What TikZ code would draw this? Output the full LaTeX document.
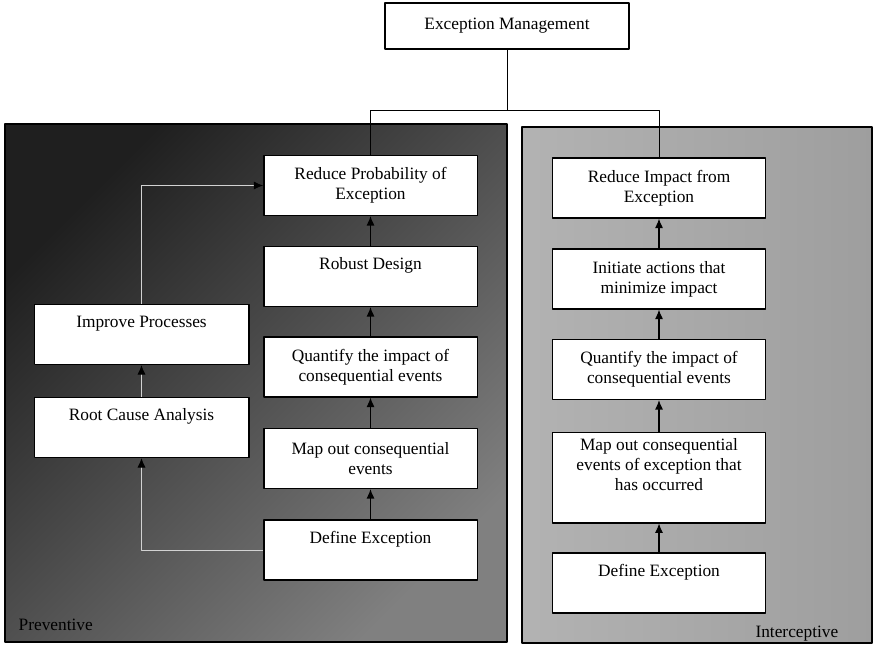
\documentclass[tikz,border=0pt]{standalone}
\usepackage{fontspec}
\setmainfont{Liberation Serif}
\usetikzlibrary{arrows.meta}
\begin{document}
\begin{tikzpicture}[x=0.75pt,y=-0.75pt,font=\fontsize{13}{15}\selectfont,line join=round,>={Latex[length=7pt,width=6pt]},
  box/.style={draw,fill=white,line width=1pt,align=center,minimum width=160pt,minimum height=45pt,inner sep=1pt},
  side/.style={box,minimum width=161pt},
  link/.style={draw=gray!35,line width=0.6pt,-{Latex[length=7pt,width=6pt,color=black]}}]
\useasboundingbox (0,0) rectangle (874,647);
% the two panels
\draw[line width=1pt,top color=black!88,bottom color=black!50,shading angle=45] (5,124) rectangle (507,642);
\draw[line width=1pt,left color=black!30,right color=black!38] (522,127) rectangle (872,643);
% root
\node[box,minimum width=183pt,minimum height=34.5pt] (em) at (507,26) {Exception Management};
\coordinate (split) at (507,110);
% preventive side
\node[box] (rp) at (370.5,185.5) {Reduce Probability of\\Exception};
\node[box] (rd) at (370.5,276.5) {Robust Design\\ \strut};
\node[box] (ql) at (370.5,367) {Quantify the impact of\\consequential events};
\node[box] (ml) at (370.5,458.5) {Map out consequential\\events};
\node[box] (dl) at (370.5,550) {Define Exception\\ \strut};
\node[side] (ip) at (141.5,334.5) {Improve Processes\\ \strut};
\node[side] (rc) at (141.5,427.5) {Root Cause Analysis\\ \strut};
% interceptive side
\node[box] (ri) at (659,188) {Reduce Impact from\\Exception};
\node[box] (ia) at (659,279) {Initiate actions that\\minimize impact};
\node[box] (qr) at (659,369.5) {Quantify the impact of\\consequential events};
\node[box,minimum height=68pt] (mr) at (659,477.5) {Map out consequential\\events of exception that\\has occurred\\ \strut};
\node[box] (dr) at (659,583) {Define Exception\\ \strut};
\node[anchor=base west] (pv) at (14,630) {Preventive};
\node[anchor=base east] (ic) at (843,637) {Interceptive};
% connectors
\draw[line width=0.6pt] (em) -- (split) -| (rp);
\draw[line width=0.6pt] (split) -| (ri);
\foreach \a/\b in {dl/ml,ml/ql,ql/rd,rd/rp,dr/mr,mr/qr,qr/ia,ia/ri}{\draw[->,line width=0.8pt] (\a) -- (\b);}
\draw[link] (dl) -| (rc);
\draw[link] (rc) -- (ip);
\draw[link] (ip) |- (rp);
\end{tikzpicture}
\end{document}
